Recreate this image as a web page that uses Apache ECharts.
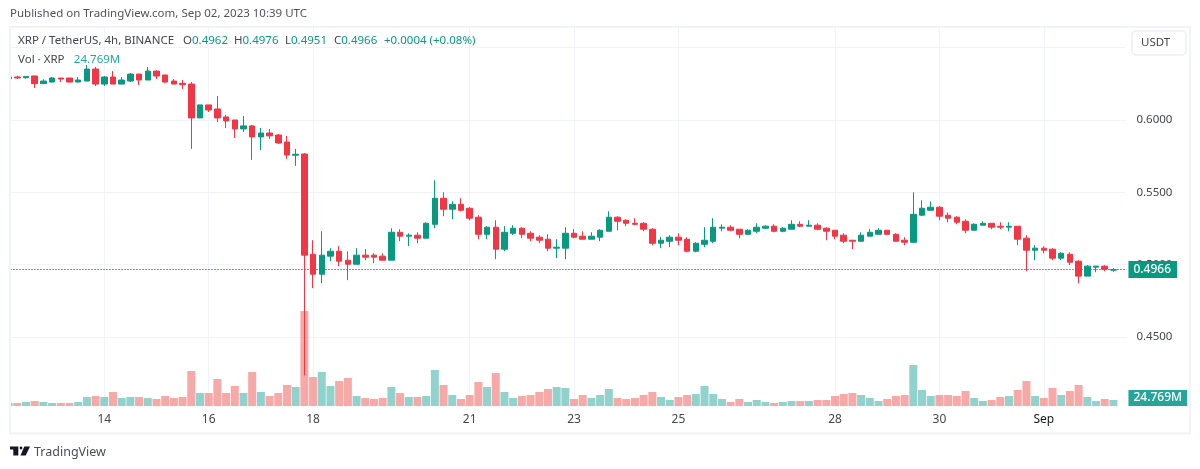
<!DOCTYPE html>
<html>
<head>
<meta charset="utf-8">
<title>XRP / TetherUS</title>
<style>
  html, body { margin: 0; padding: 0; background: #fff; }
  #chart { width: 1200px; height: 469px; }
</style>
<script src="https://cdn.jsdelivr.net/npm/echarts@6/dist/echarts.min.js"></script>
</head>
<body>
<div id="chart"></div>
<script>
const opens = [
  0.6285, 0.6297, 0.6292, 0.6304, 0.6251, 0.6262, 0.6290, 0.6290, 0.6262, 0.6269,
  0.6352, 0.6248, 0.6297, 0.6248, 0.6269, 0.6317, 0.6276, 0.6338, 0.6311, 0.6269,
  0.6253, 0.6248, 0.6014, 0.6104, 0.6076, 0.6021, 0.6000, 0.5938, 0.5959, 0.5883,
  0.5910, 0.5896, 0.5848, 0.5756, 0.5765, 0.5072, 0.4934, 0.5059, 0.5093, 0.5031,
  0.5003, 0.5066, 0.5066, 0.5059, 0.5031, 0.5224, 0.5197, 0.5204, 0.5183, 0.5279,
  0.5459, 0.5383, 0.5417, 0.5390, 0.5328, 0.5210, 0.5259, 0.5107, 0.5217, 0.5252,
  0.5217, 0.5190, 0.5176, 0.5114, 0.5114, 0.5217, 0.5197, 0.5176, 0.5190, 0.5231,
  0.5328, 0.5307, 0.5286, 0.5286, 0.5245, 0.5148, 0.5162, 0.5190, 0.5176, 0.5093,
  0.5141, 0.5162, 0.5252, 0.5259, 0.5245, 0.5210, 0.5231, 0.5252, 0.5266, 0.5231,
  0.5245, 0.5279, 0.5266, 0.5273, 0.5252, 0.5238, 0.5204, 0.5169, 0.5162, 0.5197,
  0.5210, 0.5238, 0.5210, 0.5169, 0.5155, 0.5342, 0.5376, 0.5397, 0.5342, 0.5328,
  0.5300, 0.5238, 0.5273, 0.5286, 0.5266, 0.5259, 0.5266, 0.5183, 0.5100, 0.5114,
  0.5107, 0.5045, 0.5072, 0.5024, 0.4921, 0.4983, 0.4990, 0.4962
]
const closes = [
  0.6297, 0.6290, 0.6301, 0.6251, 0.6269, 0.6290, 0.6283, 0.6262, 0.6276, 0.6352,
  0.6248, 0.6297, 0.6248, 0.6276, 0.6317, 0.6276, 0.6338, 0.6304, 0.6262, 0.6248,
  0.6244, 0.6014, 0.6104, 0.6069, 0.6014, 0.5993, 0.5938, 0.5959, 0.5883, 0.5910,
  0.5890, 0.5841, 0.5758, 0.5763, 0.5066, 0.4934, 0.5066, 0.5093, 0.5024, 0.5003,
  0.5066, 0.5052, 0.5052, 0.5031, 0.5224, 0.5197, 0.5204, 0.5183, 0.5286, 0.5459,
  0.5383, 0.5417, 0.5376, 0.5321, 0.5210, 0.5259, 0.5107, 0.5224, 0.5252, 0.5210,
  0.5183, 0.5169, 0.5114, 0.5121, 0.5217, 0.5190, 0.5176, 0.5197, 0.5238, 0.5328,
  0.5300, 0.5286, 0.5279, 0.5245, 0.5148, 0.5169, 0.5190, 0.5169, 0.5093, 0.5148,
  0.5169, 0.5259, 0.5259, 0.5238, 0.5210, 0.5238, 0.5259, 0.5266, 0.5231, 0.5252,
  0.5279, 0.5266, 0.5273, 0.5245, 0.5231, 0.5197, 0.5162, 0.5162, 0.5204, 0.5224,
  0.5238, 0.5210, 0.5162, 0.5155, 0.5348, 0.5390, 0.5397, 0.5335, 0.5321, 0.5293,
  0.5238, 0.5279, 0.5286, 0.5259, 0.5259, 0.5266, 0.5176, 0.5100, 0.5114, 0.5100,
  0.5045, 0.5079, 0.5017, 0.4921, 0.4990, 0.4990, 0.4969, 0.4966
]
const lows = [
  0.6283, 0.6283, 0.6285, 0.6221, 0.6251, 0.6258, 0.6262, 0.6262, 0.6262, 0.6269,
  0.6235, 0.6235, 0.6248, 0.6248, 0.6262, 0.6242, 0.6276, 0.6283, 0.6255, 0.6248,
  0.6214, 0.5800, 0.6014, 0.6055, 0.5986, 0.5945, 0.5876, 0.5917, 0.5724, 0.5793,
  0.5869, 0.5834, 0.5731, 0.5683, 0.4236, 0.4838, 0.4872, 0.5024, 0.4990, 0.4893,
  0.5003, 0.5031, 0.5010, 0.5031, 0.5031, 0.5162, 0.5128, 0.5148, 0.5183, 0.5252,
  0.5335, 0.5314, 0.5369, 0.5307, 0.5176, 0.5176, 0.5038, 0.5093, 0.5204, 0.5183,
  0.5162, 0.5148, 0.5093, 0.5045, 0.5038, 0.5183, 0.5176, 0.5176, 0.5162, 0.5231,
  0.5238, 0.5266, 0.5273, 0.5231, 0.5135, 0.5114, 0.5121, 0.5135, 0.5086, 0.5086,
  0.5121, 0.5148, 0.5231, 0.5231, 0.5183, 0.5204, 0.5217, 0.5245, 0.5224, 0.5224,
  0.5245, 0.5259, 0.5266, 0.5238, 0.5169, 0.5176, 0.5148, 0.5107, 0.5162, 0.5197,
  0.5210, 0.5204, 0.5162, 0.5135, 0.5148, 0.5335, 0.5376, 0.5307, 0.5293, 0.5279,
  0.5217, 0.5238, 0.5273, 0.5245, 0.5245, 0.5231, 0.5135, 0.4955, 0.5031, 0.5079,
  0.5031, 0.5031, 0.4997, 0.4872, 0.4921, 0.4948, 0.4955, 0.4951
]
const highs = [
  0.6299, 0.6306, 0.6301, 0.6306, 0.6281, 0.6297, 0.6290, 0.6290, 0.6297, 0.6380,
  0.6366, 0.6304, 0.6338, 0.6297, 0.6324, 0.6317, 0.6366, 0.6343, 0.6311, 0.6283,
  0.6276, 0.6262, 0.6104, 0.6104, 0.6166, 0.6035, 0.6000, 0.6028, 0.5966, 0.5945,
  0.5938, 0.5903, 0.5890, 0.5800, 0.5772, 0.5169, 0.5231, 0.5114, 0.5128, 0.5093,
  0.5114, 0.5107, 0.5079, 0.5079, 0.5252, 0.5245, 0.5217, 0.5224, 0.5293, 0.5583,
  0.5500, 0.5438, 0.5459, 0.5397, 0.5342, 0.5266, 0.5307, 0.5266, 0.5273, 0.5259,
  0.5231, 0.5204, 0.5210, 0.5176, 0.5259, 0.5245, 0.5231, 0.5224, 0.5245, 0.5369,
  0.5335, 0.5314, 0.5321, 0.5293, 0.5252, 0.5190, 0.5204, 0.5217, 0.5190, 0.5155,
  0.5259, 0.5321, 0.5279, 0.5273, 0.5245, 0.5245, 0.5286, 0.5273, 0.5279, 0.5259,
  0.5307, 0.5300, 0.5307, 0.5286, 0.5259, 0.5238, 0.5217, 0.5169, 0.5224, 0.5245,
  0.5252, 0.5238, 0.5217, 0.5190, 0.5500, 0.5445, 0.5438, 0.5404, 0.5362, 0.5335,
  0.5314, 0.5286, 0.5300, 0.5286, 0.5293, 0.5293, 0.5266, 0.5204, 0.5135, 0.5128,
  0.5114, 0.5086, 0.5086, 0.5031, 0.4997, 0.4990, 0.4997, 0.4976
]
// volume in millions of XRP
const volumes = [
  12.4, 12.4, 16.5, 20.6, 16.5, 12.4, 12.4, 12.4, 16.5, 37.2,
  41.3, 37.2, 57.8, 33.0, 37.2, 37.2, 33.0, 28.9, 41.3, 33.0,
  37.2, 144.5, 53.7, 53.7, 111.5, 53.7, 82.6, 53.7, 140.4, 57.8,
  41.3, 53.7, 86.7, 78.4, 392.2, 119.7, 140.4, 82.6, 103.2, 115.6,
  41.3, 33.0, 28.9, 33.0, 78.4, 53.7, 37.2, 37.2, 41.3, 148.6,
  86.7, 45.4, 28.9, 45.4, 99.1, 78.4, 136.2, 57.8, 33.0, 41.3,
  45.4, 57.8, 70.2, 78.4, 74.3, 28.9, 45.4, 33.0, 45.4, 70.2,
  33.0, 28.9, 33.0, 45.4, 57.8, 37.2, 24.8, 37.2, 45.4, 49.5,
  82.6, 49.5, 28.9, 16.5, 28.9, 16.5, 24.8, 16.5, 12.4, 16.5,
  20.6, 20.6, 20.6, 24.8, 24.8, 41.3, 49.5, 53.7, 45.4, 33.0,
  20.6, 28.9, 41.3, 45.4, 169.2, 66.0, 41.3, 45.4, 45.4, 41.3,
  61.9, 33.0, 20.6, 24.8, 37.2, 41.3, 66.0, 103.2, 41.3, 33.0,
  74.3, 45.4, 61.9, 86.7, 37.2, 20.6, 28.9, 24.769
]
const tickIndexes = [11, 23, 35, 53, 65, 77, 95, 107, 119]
const tickLabels = ['14', '16', '18', '21', '23', '25', '28', '30', 'Sep']

const upColor = '#089981'
const downColor = '#F23645'
const volUpColor = 'rgba(38,166,154,0.5)'
const volDownColor = 'rgba(239,83,80,0.5)'
const gridColor = '#f0f3fa'
const textColor = '#434651'
const font = '"Noto Sans", sans-serif'
const fontSize = 11.5

// one blank slot after the last bar, like the right offset of the original
const categories = opens.map((_, i) => String(i)).concat('')
const lastIndex = opens.length - 1
const isUp = (i) => closes[i] >= opens[i]
const isTick = (i) => tickIndexes.includes(i)

const candleData = opens.map((o, i) => [o, closes[i], lows[i], highs[i]])
const volumeData = volumes.map((v, i) => ({
  value: v,
  itemStyle: { color: isUp(i) ? volUpColor : volDownColor }
}))

const paneLeft = 4.25
const paneWidth = 1122.2

const legendStyle = {
  fontWeight: 'normal',
  rich: {
    t: { fontSize, fontWeight: 'normal', color: textColor, fontFamily: font },
    v: { fontSize, fontWeight: 'normal', color: upColor, fontFamily: font },
    m: { fontSize, fontWeight: 'normal', color: '#26a69a', fontFamily: font }
  }
}
const legendText = (text, left, top) => ({ text, left, top, padding: 0, textStyle: legendStyle })

const chart = echarts.init(document.getElementById('chart'), null, { renderer: 'canvas' })

chart.setOption({
  animation: false,
  backgroundColor: '#fff',
  textStyle: { fontFamily: font },
  title: [
    {
      text: 'Published on TradingView.com, Sep 02, 2023 10:39 UTC',
      left: 10, top: 8, padding: 0,
      textStyle: { fontSize, fontWeight: 'normal', color: '#50535e', fontFamily: font }
    },
    legendText('{t|XRP / TetherUS, 4h, BINANCE}', 18, 35),
    legendText('{t|O}{v|0.4962}', 183, 35),
    legendText('{t|H}{v|0.4976}', 234, 35),
    legendText('{t|L}{v|0.4951}', 285, 35),
    legendText('{t|C}{v|0.4966}', 334, 35),
    legendText('{v|+0.0004 (+0.08%)}', 384, 35),
    legendText('{t|Vol · XRP}  {m|24.769M}', 18, 50.5),
    {
      text: 'TradingView',
      left: 34, top: 445.5, padding: 0,
      textStyle: { fontSize: 12.5, fontWeight: 'normal', color: '#4a4e58', fontFamily: font }
    }
  ],
  grid: [
    { left: paneLeft, width: paneWidth, top: 25.9, height: 383.5 },
    { left: paneLeft, width: paneWidth, top: 309.1, height: 96.9 }
  ],
  xAxis: [
    {
      type: 'category',
      gridIndex: 0,
      data: categories,
      axisLine: { show: false },
      axisTick: { show: false },
      axisLabel: { show: false },
      splitLine: {
        show: true,
        alignWithLabel: true,
        interval: (i) => isTick(i),
        lineStyle: { color: gridColor, width: 1 }
      }
    },
    {
      type: 'category',
      gridIndex: 1,
      data: categories,
      axisLine: { show: false },
      axisTick: { show: false },
      splitLine: { show: false },
      axisLabel: {
        interval: (i) => isTick(i),
        margin: 8,
        fontSize: 12,
        color: textColor,
        hideOverlap: false,
        formatter: (_, i) => {
          const label = tickLabels[tickIndexes.indexOf(i)] || ''
          return label === 'Sep' ? '{month|Sep}' : label
        },
        rich: { month: { fontSize: 12, color: '#131722', fontFamily: font } }
      }
    }
  ],
  yAxis: [
    {
      type: 'value',
      gridIndex: 0,
      position: 'right',
      min: 0.4,
      max: 0.665,
      interval: 0.05,
      axisLine: { show: false },
      axisTick: { show: false },
      splitLine: { lineStyle: { color: gridColor, width: 1 } },
      axisLabel: {
        margin: 10,
        fontSize: fontSize,
        color: textColor,
        showMinLabel: false,
        padding: [2, 0, 0, 0],
        formatter: (v) => (v > 0.42 && v < 0.62 ? v.toFixed(4) : '')
      }
    },
    {
      type: 'value',
      gridIndex: 1,
      position: 'right',
      min: 0,
      max: 400,
      axisLine: { show: false },
      axisTick: { show: false },
      axisLabel: { show: false },
      splitLine: { show: false }
    }
  ],
  graphic: {
    elements: [
      // white margin and pane frame, the first bar is cut off by them
      { type: 'rect', z: 50, shape: { x: 0, y: 26, width: 9, height: 409 }, style: { fill: '#fff' } },
      { type: 'rect', z: 50, shape: { x: 11, y: 406.5, width: 1178, height: 3.5 }, style: { fill: '#fff' } },
      {
        type: 'rect', z: 51,
        shape: { x: 10, y: 27, width: 1180, height: 406.5 },
        style: { fill: 'none', stroke: gridColor, lineWidth: 2 }
      },
      {
        type: 'rect', z: 52,
        shape: { x: 1132, y: 31, width: 54, height: 24, r: 4 },
        style: { fill: '#fff', stroke: '#eceef3', lineWidth: 1.5 }
      },
      {
        type: 'text', z: 53, x: 1141, y: 36.5,
        style: { text: 'USDT', fill: textColor, fontSize, fontFamily: font }
      },
      // TradingView logo
      {
        type: 'polygon', z: 53,
        shape: { points: [[10, 446.5], [18.3, 446.5], [18.3, 455.5], [13.3, 455.5], [13.3, 449.5], [10, 449.5]] },
        style: { fill: '#131722' }
      },
      { type: 'circle', z: 53, shape: { cx: 21, cy: 448, r: 1.4 }, style: { fill: '#131722' } },
      {
        type: 'polygon', z: 53,
        shape: { points: [[24.3, 446.5], [30, 446.5], [25.7, 455.5], [20.5, 455.5]] },
        style: { fill: '#131722' }
      }
    ]
  },
  series: [
    {
      name: 'Vol',
      type: 'bar',
      xAxisIndex: 1,
      yAxisIndex: 1,
      z: 1,
      barWidth: 8,
      data: volumeData,
      markLine: {
        silent: true,
        symbol: 'none',
        precision: 3,
        lineStyle: { color: 'transparent', width: 0 },
        label: {
          position: 'end',
          distance: 2,
          offset: [0, -2],
          formatter: '24.769M',
          color: '#fff',
          fontSize: 12,
          fontWeight: 500,
          backgroundColor: '#26a69a',
          padding: [2, 5, 2, 5]
        },
        data: [{ yAxis: volumes[lastIndex] }]
      }
    },
    {
      // dotted last price line, stays under the candles
      name: 'Last',
      type: 'line',
      xAxisIndex: 0,
      yAxisIndex: 0,
      z: 2,
      data: [],
      markLine: {
        silent: true,
        symbol: 'none',
        precision: 4,
        lineStyle: { color: upColor, type: [1.5, 1.5], width: 1 },
        label: {
          position: 'end',
          distance: 2,
          formatter: closes[lastIndex].toFixed(4),
          color: '#fff',
          fontSize: 12,
          fontWeight: 500,
          backgroundColor: upColor,
          padding: [3, 6, 2, 5]
        },
        data: [{ yAxis: closes[lastIndex] }]
      }
    },
    {
      name: 'XRP / TetherUS',
      type: 'candlestick',
      xAxisIndex: 0,
      yAxisIndex: 0,
      z: 3,
      barWidth: 6,
      data: candleData,
      itemStyle: {
        color: upColor,
        color0: downColor,
        borderColor: upColor,
        borderColor0: downColor,
        borderWidth: 1
      }
    }
  ]
})
</script>
</body>
</html>
